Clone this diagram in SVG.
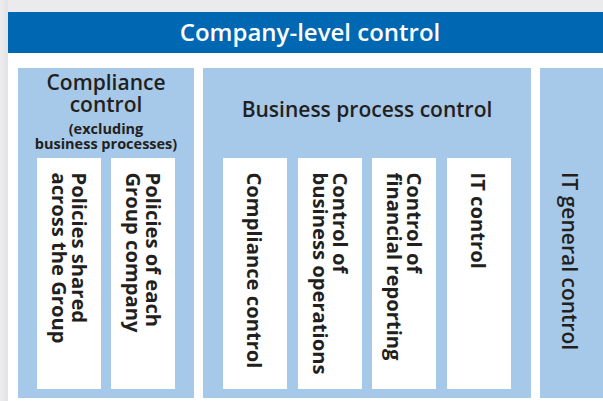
<svg xmlns="http://www.w3.org/2000/svg" width="603" height="401" viewBox="0 0 603 401">
<defs>
<linearGradient id="sh" x1="0" y1="0" x2="1" y2="0">
<stop offset="0" stop-color="#ededef"/>
<stop offset="1" stop-color="#e2e2e4"/>
</linearGradient>
<style>
.panel{fill:#a7c9e9}
.box{fill:#ffffff}
.t{font-family:"Open Sans","Noto Sans","Liberation Sans",sans-serif;fill:#231f20}
.h{font-family:"Open Sans","Noto Sans","Liberation Sans",sans-serif;fill:#ffffff;font-size:24px;font-weight:600}
.ttl{font-size:21px;font-weight:600}
.sub{font-size:14.5px;font-weight:700}
.v{font-size:20.2px;font-weight:700}
.vg{font-size:21px;font-weight:600}
</style>
</defs>
<rect x="0" y="0" width="603" height="401" fill="#ebebed"/>
<rect x="0" y="0" width="8" height="401" fill="url(#sh)"/>
<rect x="8" y="12" width="595" height="389" fill="#ffffff"/>
<g id="header">
<rect x="8" y="12" width="595" height="41" fill="#0067b3"/>
<text class="h" x="310" y="41" text-anchor="middle">Company-level control</text>
</g>
<g id="compliance-panel">
<rect class="panel" x="18" y="68" width="176" height="330"/>
<text class="t" text-anchor="middle"><tspan class="ttl" x="106" y="90">Compliance</tspan><tspan class="ttl" x="106" y="112">control</tspan><tspan class="sub" x="106" y="133.5">(excluding</tspan><tspan class="sub" x="106" y="148.5">business processes)</tspan></text>
</g>
<g id="policies-shared">
<rect class="box" x="37" y="158" width="64" height="231"/>
<text class="t v" transform="translate(72,172.5) rotate(90)"><tspan x="0" y="0">Policies shared</tspan><tspan x="0" y="20.5">across the Group</tspan></text>
</g>
<g id="policies-each">
<rect class="box" x="111" y="158" width="64" height="231"/>
<text class="t v" transform="translate(146,172.5) rotate(90)"><tspan x="0" y="0">Policies of each</tspan><tspan x="0" y="20.5">Group company</tspan></text>
</g>
<g id="business-panel">
<rect class="panel" x="203" y="68" width="328" height="330"/>
<text class="t ttl" x="367" y="117" text-anchor="middle">Business process control</text>
</g>
<g id="compliance-control">
<rect class="box" x="223" y="158" width="64" height="231"/>
<text class="t v" transform="translate(247,172.5) rotate(90)">Compliance control</text>
</g>
<g id="business-operations">
<rect class="box" x="298" y="158" width="64" height="231"/>
<text class="t v" transform="translate(333,172.5) rotate(90)"><tspan x="0" y="0">Control of</tspan><tspan x="0" y="20.5">business operations</tspan></text>
</g>
<g id="financial-reporting">
<rect class="box" x="372" y="158" width="64" height="231"/>
<text class="t v" transform="translate(407,172.5) rotate(90)"><tspan x="0" y="0">Control of</tspan><tspan x="0" y="20.5">financial reporting</tspan></text>
</g>
<g id="it-control">
<rect class="box" x="447" y="158" width="64" height="231"/>
<text class="t v" transform="translate(470.5,172.5) rotate(90)">IT control</text>
</g>
<g id="it-general-control">
<rect class="panel" x="540" y="68" width="63" height="330"/>
<text class="t vg" transform="translate(561.5,172) rotate(90)">IT general control</text>
</g>
<g id="connectors"></g>
</svg>
